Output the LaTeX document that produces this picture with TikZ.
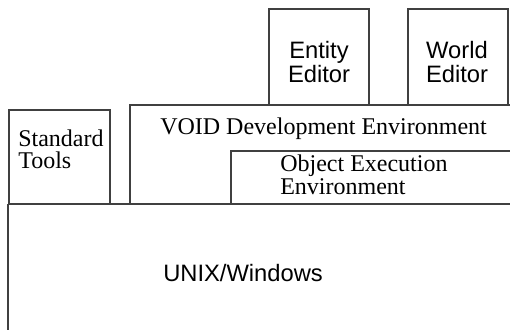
\documentclass[tikz,border=0pt]{standalone}
\usepackage{fontspec}
\setmainfont{Liberation Serif}
\newfontfamily\sansf{Liberation Sans}
\begin{document}
\begin{tikzpicture}[x=0.75pt,y=-0.75pt,
  boxline/.style={draw=black!75,line width=0.8pt},
  serifText/.style={inner sep=0pt,font=\fontsize{18}{20}\selectfont},
  sansText/.style={inner sep=0pt,font=\sansf\fontsize{17.8}{20}\selectfont}]
\useasboundingbox (0,0) rectangle (510,329);
\clip (0,0) rectangle (510,329);
% boxes
\draw[boxline] (8,204) -- (530,204);
\draw[boxline] (8,204) -- (8,340);
\draw[boxline] (130,204) -- (130,105) -- (530,105);
\draw[boxline] (231,204) -- (231,151) -- (530,151);
\draw[boxline] (9,204) -- (9,110) -- (110,110) -- (110,204);
\draw[boxline] (269,105) -- (269,9) -- (369,9) -- (369,105);
\draw[boxline] (408,105) -- (408,9) -- (508,9) -- (508,105);
% texts
\node[sansText,anchor=base] (ent1) at (319,58) {Entity};
\node[sansText,anchor=base] (ent2) at (319,82) {Editor};
\node[sansText,anchor=base] (wor1) at (457,58) {World};
\node[sansText,anchor=base] (wor2) at (457,82) {Editor};
\node[serifText,anchor=base west] (st1) at (18,146) {Standard};
\node[serifText,anchor=base west] (st2) at (18,168) {Tools};
\node[serifText,anchor=base west] (void) at (160,134) {VOID Development Environment};
\node[serifText,anchor=base west] (oee1) at (280,171) {Object Execution};
\node[serifText,anchor=base west] (oee2) at (280,194) {Environment};
\node[sansText,anchor=base west] (unix) at (163,281) {UNIX/Windows};
\end{tikzpicture}
\end{document}
